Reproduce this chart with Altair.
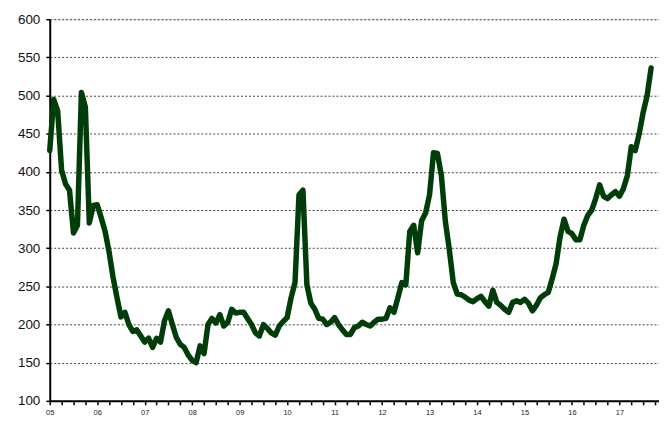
import altair as alt
import pandas as pd

# monthly values, Jan 2005 onward
values = [
    428, 495, 480, 402, 384, 376, 320, 330, 504, 485, 333, 356,
    357, 340, 322, 295, 262, 235, 210, 216, 200, 191, 193, 185,
    177, 182, 170, 182, 177, 205, 218, 200, 183, 174, 170, 160,
    153, 150, 172, 162, 200, 208, 202, 213, 198, 203, 220, 215,
    216, 216, 208, 200, 189, 185, 200, 195, 189, 186, 198, 204,
    209, 235, 255, 370, 376, 252, 228, 220, 208, 207, 200, 203,
    209, 200, 193, 187, 187, 196, 198, 203, 200, 198, 203, 207,
    207, 208, 222, 216, 235, 255, 252, 322, 330, 294, 336, 346,
    370, 425, 424, 395, 335, 298, 255, 240, 239, 236, 232, 230,
    234, 237, 230, 224, 245, 229, 225, 220, 216, 229, 231, 229,
    233, 228, 218, 225, 235, 239, 242, 260, 280, 315, 338, 322,
    319, 311, 311, 330, 343, 350, 365, 383, 368, 365, 370, 374,
    368, 378, 395, 433, 428, 450, 478, 500, 536,
]
year_labels = ["05", "06", "07", "08", "09", "10", "11", "12", "13", "14", "15", "16", "17"]
y_ticks = [100, 150, 200, 250, 300, 350, 400, 450, 500, 550, 600]

df = pd.DataFrame({"m": list(range(len(values))), "v": values})

lab_arr = "[" + ",".join("'" + s + "'" for s in year_labels) + "]"
label_expr = f"datum.value % 12 == 0 ? {lab_arr}[datum.value / 12] : ''"

chart = alt.Chart(df).mark_line(color="#003d08", strokeWidth=5.5, strokeJoin="round", strokeCap="round").encode(
    x=alt.X("m:Q", scale=alt.Scale(domain=[0, 154], nice=False, zero=False),
            axis=alt.Axis(title=None, values=list(range(0, 154, 3)), labelExpr=label_expr,
                          grid=False, domainColor="black", domainWidth=2, tickColor="black",
                          tickWidth=1.5, tickSize=4, labelFontSize=7.5, labelColor="#222",
                          labelFont="Liberation Sans", labelPadding=4, labelFlush=False)),
    y=alt.Y("v:Q", scale=alt.Scale(domain=[100, 600], nice=False, zero=False),
            axis=alt.Axis(title=None, values=y_ticks, grid=True, gridColor="#444",
                          gridDash=[2, 2], gridWidth=1, domainColor="black", domainWidth=2,
                          tickColor="black", tickSize=4, tickWidth=1.5, labelFontSize=13.5,
                          labelColor="#111", labelFont="Liberation Sans", labelPadding=6)),
).properties(
    width=613, height=384,
    autosize=alt.AutoSizeParams(type="none"),
    padding={"left": 42, "top": 10, "right": 0, "bottom": 20},
).configure_view(stroke=None).configure(background="white")

chart.save("out.html", embed_options={"renderer": "svg", "actions": False})
